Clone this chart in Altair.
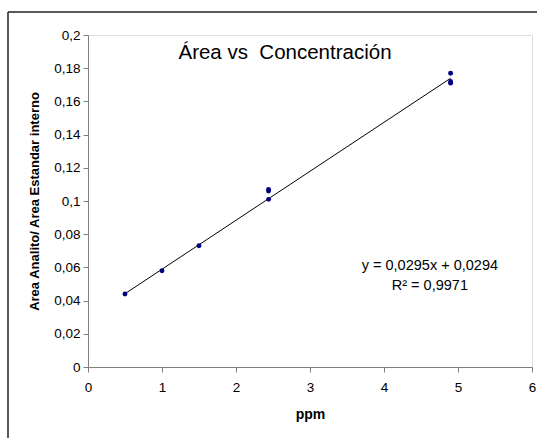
import altair as alt
import pandas as pd

# data
ppm = [0.5, 1.0, 1.5, 2.44, 2.44, 2.44, 4.9, 4.9, 4.9]
ratio = [0.044, 0.058, 0.073, 0.101, 0.106, 0.107, 0.171, 0.172, 0.177]
slope = 0.0295
intercept = 0.0294
fit_x = [0.5, 4.9]
x_ticks = [0, 1, 2, 3, 4, 5, 6]
y_ticks = [0, 0.02, 0.04, 0.06, 0.08, 0.1, 0.12, 0.14, 0.16, 0.18, 0.2]

title_text = "Área vs\u00a0 Concentración"
eq_text = "y = 0,0295x + 0,0294"
r2_text = "R² = 0,9971"

df = pd.DataFrame({"ppm": ppm, "ratio": ratio})
fit = pd.DataFrame({"ppm": fit_x, "ratio": [slope * v + intercept for v in fit_x]})

FONT = "Liberation Sans"

xs = alt.Scale(domain=[0, 6], nice=False)
ys = alt.Scale(domain=[0, 0.2], nice=False)

x_axis = alt.Axis(
    values=x_ticks, title="ppm", labelPadding=8,
    labelExpr="replace(format(datum.value, '~g'), '.', ',')",
    titleFontSize=14, titlePadding=14,
)
y_axis = alt.Axis(
    values=y_ticks, title="Area Analito/ Area Estandar interno", labelPadding=3,
    labelExpr="replace(format(datum.value, '.2~f'), '.', ',')",
    titleFontSize=13, titlePadding=12,
)

line = alt.Chart(fit).mark_line(color="black", strokeWidth=1).encode(
    x=alt.X("ppm:Q", scale=xs, axis=x_axis),
    y=alt.Y("ratio:Q", scale=ys, axis=y_axis),
)

pts = alt.Chart(df).mark_circle(color="#000080", size=24, opacity=1).encode(
    x=alt.X("ppm:Q", scale=xs, axis=x_axis),
    y=alt.Y("ratio:Q", scale=ys, axis=y_axis),
)

labels = pd.DataFrame({"ppm": [4.62, 4.62], "ratio": [0.0607, 0.0487], "t": [eq_text, r2_text]})
eq = alt.Chart(labels).mark_text(font=FONT, fontSize=14.5, color="black", align="center", baseline="middle").encode(
    x=alt.X("ppm:Q", scale=xs, axis=x_axis),
    y=alt.Y("ratio:Q", scale=ys, axis=y_axis),
    text="t:N",
)

title = alt.Chart(pd.DataFrame({"t": [title_text]})).mark_text(
    font=FONT, fontSize=20.5, color="black", align="center", baseline="middle"
).encode(x=alt.value(197), y=alt.value(18), text="t:N")

border_top = alt.Chart(pd.DataFrame({"a": [0]})).mark_rule(color="#222222", strokeWidth=1.5).encode(
    x=alt.value(-80), x2=alt.value(470), y=alt.value(-23)
)
border_left = alt.Chart(pd.DataFrame({"a": [0]})).mark_rule(color="#222222", strokeWidth=1.5).encode(
    x=alt.value(-80), y=alt.value(-23), y2=alt.value(420)
)

chart = alt.layer(border_top, border_left, line, pts, eq, title).properties(
    width=444, height=332,
    autosize=alt.AutoSizeParams(type="none"),
    padding={"left": 88, "top": 35, "right": 5, "bottom": 71},
).configure_view(stroke=None).configure(background="white").configure_axis(
    grid=False, domainColor="#808080", tickColor="#808080", tickSize=5,
    labelFontSize=13.5, labelFont=FONT, labelColor="black", labelOverlap=False,
    labelFlush=False, titleFont=FONT, titleFontWeight="bold", titleColor="black",
)

chart.save("out.html", embed_options={"renderer": "svg", "actions": False})
